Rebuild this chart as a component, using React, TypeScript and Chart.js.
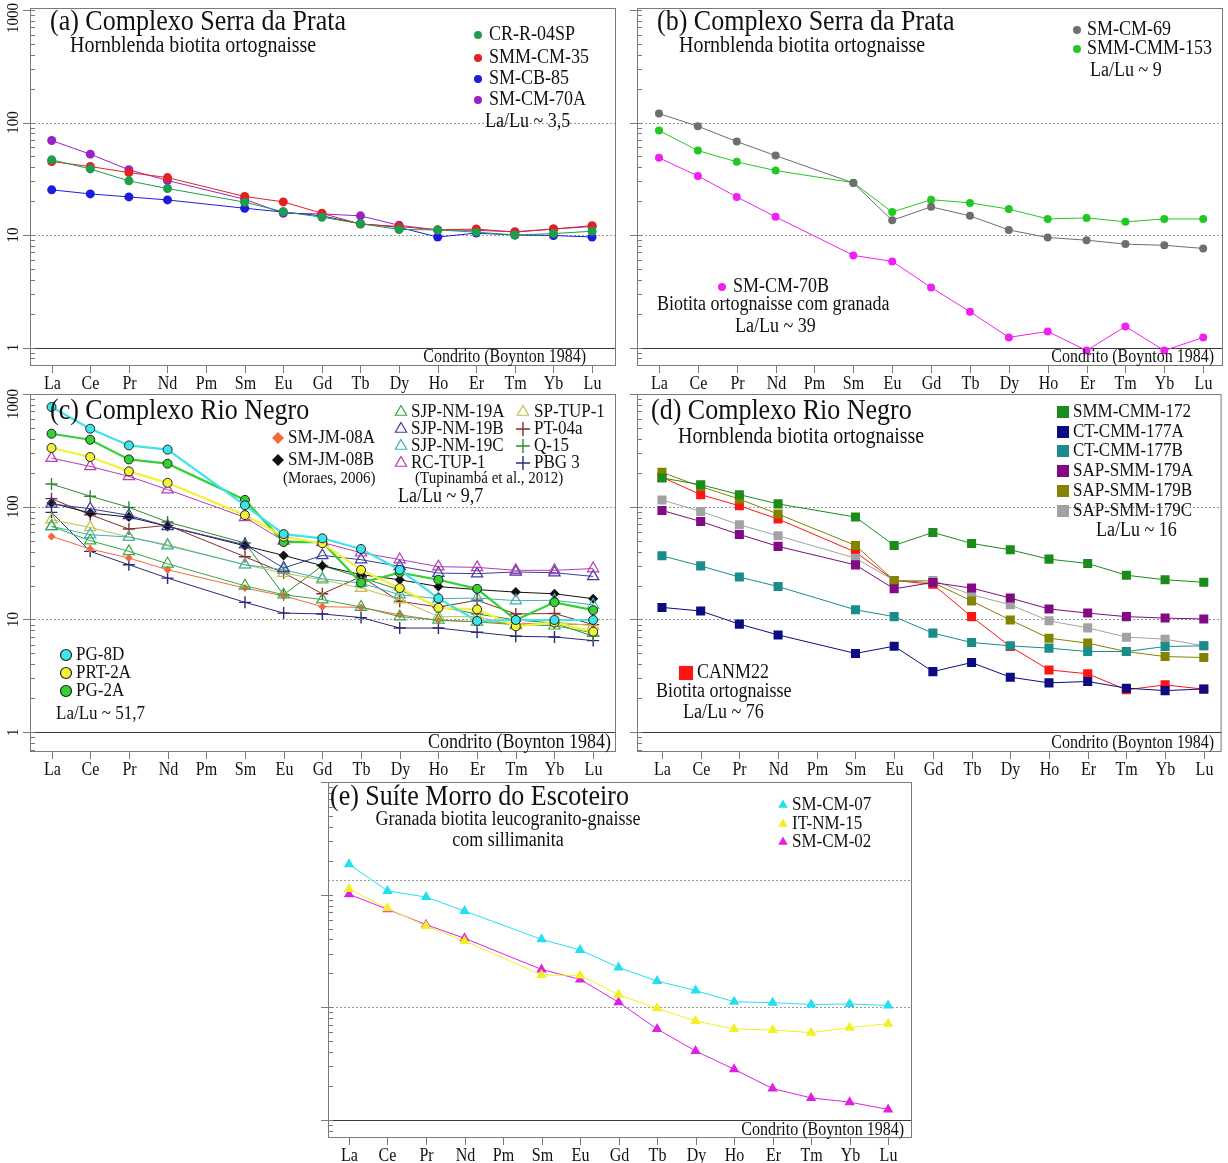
import React, { useEffect, useRef } from 'react';
import { Chart, registerables } from 'chart.js';

Chart.register(...registerables);

const W = 1228;
const H = 1163;
const SERIF = '"Liberation Serif", "Times New Roman", "DejaVu Serif", serif';
const CONDENSE = 0.9;

// ---- categories ----
const ELEMENTS = ['La', 'Ce', 'Pr', 'Nd', 'Pm', 'Sm', 'Eu', 'Gd', 'Tb', 'Dy', 'Ho', 'Er', 'Tm', 'Yb', 'Lu'];
const Y_TICK_LABELS = ['1', '10', '100', '1000'];
const CONDRITO = 'Condrito (Boynton 1984)';

// ---- panel (a) ----
const A_CR_R_04SP = [46.6, 38.7, 30.3, 25.9, null, 19.6, 16.1, 14.4, 12.6, 11.2, 11.1, 10.6, 10.0, 10.3, 10.8];
const A_SMM_CM_35 = [45.0, 40.6, 35.9, 32.4, null, 22.0, 19.7, 15.6, 12.5, 11.9, 11.1, 11.3, 10.6, 11.3, 12.1];
const A_SM_CB_85 = [25.2, 23.2, 21.8, 20.5, null, 17.3, 16.0, 14.8, 12.6, 11.7, 9.6, 10.4, 10.0, 9.9, 9.6];
const A_SM_CM_70A = [69.2, 52.3, 38.0, 30.5, null, 20.8, 15.6, 15.4, 14.8, 12.2, 11.1, 11.0, 10.7, 11.3, 11.9];

// ---- panel (b) ----
const B_SM_CM_69 = [120, 92.7, 67.7, 50.8, null, 29.0, 13.5, 17.8, 14.8, 11.1, 9.5, 9.0, 8.3, 8.1, 7.6];
const B_SMM_CMM_153 = [84.9, 56.3, 44.7, 37.4, null, 29.2, 16.0, 20.6, 19.3, 17.0, 13.9, 14.2, 13.1, 13.9, 13.9];
const B_SM_CM_70B = [48.5, 33.5, 21.8, 14.5, null, 6.59, 5.83, 3.42, 2.08, 1.23, 1.39, 0.94, 1.54, 0.94, 1.23];

// ---- panel (c) ----
const C_PG_8D = [767, 492, 350, 321, null, 103, 57.2, 52.5, 42.2, 27.6, 15.4, 9.7, 9.9, 9.9, 9.9];
const C_PRT_2A = [332, 276, 206, 163, null, 84.3, 54.2, 47.5, 27.5, 19.0, 12.7, 12.3, 8.7, 9.4, 7.8];
const C_PG_2A = [444, 393, 263, 241, null, 115, 48.6, 48.5, 21.2, 26.0, 22.5, 18.7, 9.9, 14.2, 12.1];
const C_RC_TUP_1 = [270, 228, 186, 142, null, 80.4, 49.9, 48.2, 39.1, 34.0, 29.4, 29.0, 27.3, 27.3, 28.3];
const C_SJP_NM_19A = [67, 50, 40.2, 31.2, null, 19.9, 16.6, 15.0, 12.9, 10.6, 9.9, 9.5, 9.0, 8.8, 7.6];
const C_SJP_NM_19B = [106, 96, 84, 67, null, 46, 28.6, 37.0, 33.9, 29.6, 25.8, 25.5, 26.4, 26.0, 24.1];
const C_SJP_NM_19C = [67, 56.5, 53.9, 45.2, null, 30.6, 27.6, 23.0, 21.0, 16.6, 15.3, 15.5, 14.7, 14.8, 13.5];
const C_SP_TUP_1 = [76.8, 65.6, 53.9, 46.0, null, 30.6, 25.8, 22.5, 19.0, 15.0, 10.6, 10.6, 8.8, 9.5, 8.8];
const C_SM_JM_08A = [54.6, 42.2, 35.1, 27.6, null, 19.0, 16.2, 13.0, 12.8, 11.0, 9.8, 9.6, 9.3, 9.1, 9.0];
const C_SM_JM_08B = [108, 88, 81, 67, null, 45, 37, 30, 25, 22.5, 19.6, 18.4, 17.5, 16.9, 15.3];
const C_PT_04A = [118, 85, 63.5, 68.4, null, 36, 26, 16.9, 24, 14.5, 12.9, 14.8, 11.2, 11.3, 9.0];
const C_Q_15 = [159, 124, 98.8, 73.3, null, 47.7, 16.6, 30, 23.6, 18.3, 13.0, 11.2, 9.9, 9.3, 7.1];
const C_PBG_3 = [89.2, 40.2, 30.6, 23.3, null, 14.2, 11.4, 11.2, 10.4, 8.4, 8.4, 7.7, 7.1, 7.0, 6.5];

// ---- panel (d) ----
const D_SMM_CMM_172 = [180, 157, 128, 106, null, 81, 45.4, 59.2, 47.3, 41.5, 34.3, 31.4, 24.7, 22.5, 21.4];
const D_CT_CMM_177A = [12.8, 11.9, 9.1, 7.3, null, 5.0, 5.8, 3.45, 4.15, 3.08, 2.74, 2.82, 2.46, 2.34, 2.42];
const D_CT_CMM_177B = [36.7, 29.9, 23.8, 19.6, null, 12.2, 10.6, 7.57, 6.25, 5.84, 5.57, 5.2, 5.2, 5.76, 5.84];
const D_SAP_SMM_179A = [92.8, 74.1, 56.8, 44.5, null, 30.5, 18.7, 21.3, 19.0, 15.5, 12.4, 11.4, 10.6, 10.3, 10.1];
const D_SAP_SMM_179B = [202, 151, 117, 86.1, null, 45.4, 22.2, 21.3, 14.6, 9.9, 6.83, 6.17, 5.2, 4.69, 4.6];
const D_SAP_SMM_179C = [115, 90.9, 69.2, 55.3, null, 35, 22.2, 22.2, 16.6, 13.5, 9.73, 8.43, 6.97, 6.69, 5.84];
const D_CANM22 = [183, 128, 102, 77.8, null, 39.6, 22.2, 20.5, 10.6, 5.76, 3.57, 3.3, 2.38, 2.63, 2.41];

// ---- panel (e) ----
const E_SM_CM_07 = [186, 108, 95.3, 71.6, null, 40.1, 32.3, 22.6, 17.1, 14.1, 11.2, 11.0, 10.6, 10.7, 10.4];
const E_IT_NM_15 = [112, 75.6, 52.7, 38.8, null, 19.4, 19.2, 12.9, 9.8, 7.57, 6.42, 6.29, 5.96, 6.6, 7.16];
const E_SM_CM_02 = [101, 74.1, 54.2, 41, null, 21.7, 17.7, 11.1, 6.42, 4.1, 2.82, 1.9, 1.57, 1.44, 1.24];

type Mk = 'circle' | 'rect' | 'triangle' | 'cross' | 'rectRot';
interface SeriesDef {
  label: string; values: (number | null)[]; color: string; marker: Mk; radius: number;
  filled: boolean; edge?: string; lineWidth: number; lineColor?: string;
}
interface Txt { t: string; x: number; y: number; size: number; align?: CanvasTextAlign; }
interface Leg { s: number; x: number; y: number; tx: number; size: number; r: number; }
interface PanelDef {
  frame: [number, number, number, number];
  xMin: number; xMax: number; yMin: number; yMax: number;
  yLabels: boolean; dotted: number[];
  series: SeriesDef[]; texts: Txt[]; legend: Leg[];
  condrito: { x: number; size: number };
}

const dot = (label: string, values: (number | null)[], color: string, radius = 4.5): SeriesDef =>
  ({ label, values, color, marker: 'circle', radius, filled: true, lineWidth: 1 });

const PANELS: PanelDef[] = [
  {
    frame: [30, 8, 616, 366], xMin: -0.562, xMax: 14.62, yMin: 0.685, yMax: 1042,
    yLabels: true, dotted: [10, 100],
    series: [
      dot('CR-R-04SP', A_CR_R_04SP, '#1e9e4a'),
      dot('SMM-CM-35', A_SMM_CM_35, '#e42020'),
      dot('SM-CB-85', A_SM_CB_85, '#1c1cdc'),
      dot('SM-CM-70A', A_SM_CM_70A, '#9a22c4'),
    ],
    texts: [
      { t: '(a) Complexo Serra da Prata', x: 50, y: 22, size: 26 },
      { t: 'Hornblenda biotita ortognaisse', x: 70, y: 46, size: 20 },
      { t: 'La/Lu ~ 3,5', x: 485, y: 122, size: 18 },
    ],
    legend: [
      { s: 0, x: 478, y: 35, tx: 489, size: 18, r: 4 },
      { s: 1, x: 478, y: 58, tx: 489, size: 18, r: 4 },
      { s: 2, x: 478, y: 79, tx: 489, size: 18, r: 4 },
      { s: 3, x: 478, y: 100, tx: 489, size: 18, r: 4 },
    ],
    condrito: { x: 586, size: 16 },
  },
  {
    frame: [637, 8, 1223, 366], xMin: -0.566, xMax: 14.51, yMin: 0.685, yMax: 1042,
    yLabels: false, dotted: [10, 100],
    series: [
      dot('SM-CM-69', B_SM_CM_69, '#6e6e6e', 4),
      dot('SMM-CMM-153', B_SMM_CMM_153, '#22c822', 4),
      dot('SM-CM-70B', B_SM_CM_70B, '#f020f0', 4),
    ],
    texts: [
      { t: '(b) Complexo Serra da Prata', x: 657, y: 22, size: 26 },
      { t: 'Hornblenda biotita ortognaisse', x: 679, y: 46, size: 20 },
      { t: 'La/Lu ~ 9', x: 1090, y: 71, size: 18 },
      { t: 'Biotita ortognaisse com granada', x: 657, y: 305, size: 18 },
      { t: 'La/Lu ~ 39', x: 735, y: 327, size: 18 },
    ],
    legend: [
      { s: 0, x: 1077, y: 30, tx: 1087, size: 18, r: 4 },
      { s: 1, x: 1077, y: 49, tx: 1087, size: 18, r: 4 },
      { s: 2, x: 722, y: 287, tx: 733, size: 18, r: 4 },
    ],
    condrito: { x: 1214, size: 16 },
  },
  {
    frame: [30, 394, 616, 752], xMin: -0.556, xMax: 14.59, yMin: 0.668, yMax: 1000,
    yLabels: true, dotted: [10, 100],
    series: [
      { label: 'PG-8D', values: C_PG_8D, color: '#3fe3ea', marker: 'circle', radius: 4.5, filled: true, edge: '#222', lineWidth: 2.2 },
      { label: 'PRT-2A', values: C_PRT_2A, color: '#f2f23a', marker: 'circle', radius: 4.5, filled: true, edge: '#222', lineWidth: 2.2 },
      { label: 'PG-2A', values: C_PG_2A, color: '#35d035', marker: 'circle', radius: 4.5, filled: true, edge: '#222', lineWidth: 2.2 },
      { label: 'RC-TUP-1', values: C_RC_TUP_1, color: '#b43cb4', marker: 'triangle', radius: 6.5, filled: false, lineWidth: 1 },
      { label: 'SJP-NM-19A', values: C_SJP_NM_19A, color: '#3aa84a', marker: 'triangle', radius: 6.5, filled: false, lineWidth: 1 },
      { label: 'SJP-NM-19B', values: C_SJP_NM_19B, color: '#3c3ca0', marker: 'triangle', radius: 6.5, filled: false, lineWidth: 1 },
      { label: 'SJP-NM-19C', values: C_SJP_NM_19C, color: '#40b0b0', marker: 'triangle', radius: 6.5, filled: false, lineWidth: 1 },
      { label: 'SP-TUP-1', values: C_SP_TUP_1, color: '#c0c048', marker: 'triangle', radius: 6.5, filled: false, lineWidth: 1 },
      { label: 'SM-JM-08A', values: C_SM_JM_08A, color: '#f26a3c', marker: 'rectRot', radius: 4, filled: true, lineWidth: 1 },
      { label: 'SM-JM-08B', values: C_SM_JM_08B, color: '#111111', marker: 'rectRot', radius: 5, filled: true, lineWidth: 1 },
      { label: 'PT-04a', values: C_PT_04A, color: '#8c2a2a', marker: 'cross', radius: 6, filled: false, lineWidth: 1 },
      { label: 'Q-15', values: C_Q_15, color: '#2f8a2f', marker: 'cross', radius: 6, filled: false, lineWidth: 1 },
      { label: 'PBG 3', values: C_PBG_3, color: '#2a2a78', marker: 'cross', radius: 6, filled: false, lineWidth: 1 },
    ],
    texts: [
      { t: '(c) Complexo Rio Negro', x: 50, y: 411, size: 26 },
      { t: '(Moraes, 2006)', x: 283, y: 479, size: 15 },
      { t: '(Tupinambá et al., 2012)', x: 415, y: 479, size: 15 },
      { t: 'La/Lu ~ 9,7', x: 398, y: 497, size: 18 },
      { t: 'La/Lu ~ 51,7', x: 56, y: 714, size: 17 },
    ],
    legend: [
      { s: 8, x: 278, y: 438, tx: 288, size: 17, r: 6 },
      { s: 9, x: 278, y: 460, tx: 288, size: 17, r: 6 },
      { s: 4, x: 401, y: 412, tx: 411, size: 17, r: 6.5 },
      { s: 5, x: 401, y: 429, tx: 411, size: 17, r: 6.5 },
      { s: 6, x: 401, y: 446, tx: 411, size: 17, r: 6.5 },
      { s: 3, x: 401, y: 463, tx: 411, size: 17, r: 6.5 },
      { s: 7, x: 523, y: 412, tx: 534, size: 17, r: 6.5 },
      { s: 10, x: 523, y: 429, tx: 534, size: 17, r: 7 },
      { s: 11, x: 523, y: 446, tx: 534, size: 17, r: 7 },
      { s: 12, x: 523, y: 463, tx: 534, size: 17, r: 7 },
      { s: 0, x: 66, y: 655, tx: 76, size: 17, r: 5.5 },
      { s: 1, x: 66, y: 673, tx: 76, size: 17, r: 5.5 },
      { s: 2, x: 66, y: 691, tx: 76, size: 17, r: 5.5 },
    ],
    condrito: { x: 611, size: 18 },
  },
  {
    frame: [637, 394, 1223, 752], xMin: -0.645, xMax: 14.46, yMin: 0.668, yMax: 1000,
    yLabels: false, dotted: [10, 100],
    series: [
      { label: 'SMM-CMM-172', values: D_SMM_CMM_172, color: '#1a8c1a', marker: 'rect', radius: 6.4, filled: true, lineWidth: 1 },
      { label: 'CT-CMM-177A', values: D_CT_CMM_177A, color: '#0c0c82', marker: 'rect', radius: 6.4, filled: true, lineWidth: 1 },
      { label: 'CT-CMM-177B', values: D_CT_CMM_177B, color: '#1a8c8c', marker: 'rect', radius: 6.4, filled: true, lineWidth: 1 },
      { label: 'SAP-SMM-179A', values: D_SAP_SMM_179A, color: '#820a82', marker: 'rect', radius: 6.4, filled: true, lineWidth: 1 },
      { label: 'SAP-SMM-179B', values: D_SAP_SMM_179B, color: '#838300', marker: 'rect', radius: 6.4, filled: true, lineWidth: 1 },
      { label: 'SAP-SMM-179C', values: D_SAP_SMM_179C, color: '#a2a2a2', marker: 'rect', radius: 6.4, filled: true, lineWidth: 1 },
      { label: 'CANM22', values: D_CANM22, color: '#ff1414', marker: 'rect', radius: 6.4, filled: true, lineWidth: 1 },
    ],
    texts: [
      { t: '(d) Complexo Rio Negro', x: 651, y: 411, size: 26 },
      { t: 'Hornblenda biotita ortognaisse', x: 678, y: 437, size: 20 },
      { t: 'La/Lu ~ 16', x: 1096, y: 531, size: 18 },
      { t: 'Biotita ortognaisse', x: 656, y: 692, size: 18 },
      { t: 'La/Lu ~ 76', x: 683, y: 713, size: 18 },
    ],
    legend: [
      { s: 0, x: 1063, y: 412, tx: 1073, size: 17, r: 8.5 },
      { s: 1, x: 1063, y: 432, tx: 1073, size: 17, r: 8.5 },
      { s: 2, x: 1063, y: 451, tx: 1073, size: 17, r: 8.5 },
      { s: 3, x: 1063, y: 471, tx: 1073, size: 17, r: 8.5 },
      { s: 4, x: 1063, y: 491, tx: 1073, size: 17, r: 8.5 },
      { s: 5, x: 1063, y: 511, tx: 1073, size: 17, r: 8.5 },
      { s: 6, x: 686, y: 673, tx: 697, size: 18, r: 10 },
    ],
    condrito: { x: 1214, size: 16 },
  },
  {
    frame: [328, 782, 912, 1138], xMin: -0.545, xMax: 14.62, yMin: 0.692, yMax: 1000,
    yLabels: false, dotted: [10, 134],
    series: [
      { label: 'SM-CM-07', values: E_SM_CM_07, color: '#22e0ee', marker: 'triangle', radius: 6, filled: true, lineWidth: 1 },
      { label: 'IT-NM-15', values: E_IT_NM_15, color: '#f2f022', marker: 'triangle', radius: 6, filled: true, lineWidth: 1 },
      { label: 'SM-CM-02', values: E_SM_CM_02, color: '#e020e0', marker: 'triangle', radius: 6, filled: true, lineWidth: 1 },
    ],
    texts: [
      { t: '(e) Suíte Morro do Escoteiro', x: 330, y: 797, size: 26 },
      { t: 'Granada biotita leucogranito-gnaisse', x: 508, y: 820, size: 18, align: 'center' },
      { t: 'com sillimanita', x: 508, y: 841, size: 18, align: 'center' },
    ],
    legend: [
      { s: 0, x: 783, y: 805, tx: 792, size: 17, r: 5.5 },
      { s: 1, x: 783, y: 824, tx: 792, size: 17, r: 5.5 },
      { s: 2, x: 783, y: 842, tx: 792, size: 17, r: 5.5 },
    ],
    condrito: { x: 904, size: 16 },
  },
];

function drawMarker(ctx: CanvasRenderingContext2D, m: Mk, x: number, y: number, r: number,
  fill: string | null, stroke: string | null, lw: number) {
  ctx.beginPath();
  if (m === 'circle') ctx.arc(x, y, r, 0, Math.PI * 2);
  else if (m === 'rect') { const s = r * Math.SQRT1_2; ctx.rect(x - s, y - s, 2 * s, 2 * s); }
  else if (m === 'rectRot') { ctx.moveTo(x, y - r); ctx.lineTo(x + r, y); ctx.lineTo(x, y + r); ctx.lineTo(x - r, y); ctx.closePath(); }
  else if (m === 'triangle') {
    for (let k = 0; k < 3; k++) {
      const a = k * 2 * Math.PI / 3;
      const px = x + Math.sin(a) * r, py = y - Math.cos(a) * r;
      if (k === 0) ctx.moveTo(px, py); else ctx.lineTo(px, py);
    }
    ctx.closePath();
  } else { ctx.moveTo(x - r, y); ctx.lineTo(x + r, y); ctx.moveTo(x, y - r); ctx.lineTo(x, y + r); }
  if (fill && m !== 'cross') { ctx.fillStyle = fill; ctx.fill(); }
  if (stroke && lw > 0) { ctx.lineWidth = lw; ctx.strokeStyle = stroke; ctx.stroke(); }
}

// Narrow serif text (the source figure uses a tall, condensed Times face)
function condText(ctx: CanvasRenderingContext2D, t: string, x: number, y: number, size: number, align: CanvasTextAlign) {
  ctx.save();
  ctx.font = `${(size / CONDENSE).toFixed(1)}px ${SERIF}`;
  ctx.textAlign = align;
  ctx.textBaseline = 'middle';
  ctx.translate(x, y);
  ctx.scale(CONDENSE, 1);
  ctx.fillText(t, 0, 0);
  ctx.restore();
}

function makeDecor(p: PanelDef) {
  return {
    id: 'decor',
    beforeDatasetsDraw(chart: any) {
      const ctx: CanvasRenderingContext2D = chart.ctx;
      const { left, right } = chart.chartArea;
      const ys = chart.scales.y;
      ctx.save();
      ctx.strokeStyle = '#9a9a9a';
      ctx.lineWidth = 1;
      ctx.setLineDash([2, 2]);
      for (const g of p.dotted) {
        const y = Math.round(ys.getPixelForValue(g)) + 0.5;
        ctx.beginPath(); ctx.moveTo(left, y); ctx.lineTo(right, y); ctx.stroke();
      }
      ctx.setLineDash([]);
      const y1 = Math.round(ys.getPixelForValue(1)) + 0.5;
      ctx.strokeStyle = '#3a3a3a';
      ctx.lineWidth = 1.2;
      ctx.beginPath(); ctx.moveTo(left - 7, y1); ctx.lineTo(right, y1); ctx.stroke();
      ctx.restore();
    },
    afterDatasetsDraw(chart: any) {
      const ctx: CanvasRenderingContext2D = chart.ctx;
      const { left, right, top, bottom } = chart.chartArea;
      const ys = chart.scales.y;
      const xs = chart.scales.x;
      ctx.save();
      // frame
      ctx.strokeStyle = '#7a7a7a';
      ctx.lineWidth = 1;
      ctx.strokeRect(left + 0.5, top + 0.5, right - left - 1, bottom - top - 1);
      // y ticks
      for (let e = -1; e <= 3; e++) {
        for (let m = 1; m <= 9; m++) {
          const v = m * Math.pow(10, e);
          if (v < p.yMin || v > p.yMax) continue;
          const py = Math.round(ys.getPixelForValue(v)) + 0.5;
          ctx.beginPath();
          if (m === 1) { ctx.moveTo(left - 7, py); ctx.lineTo(left + 5, py); }
          else { ctx.moveTo(left, py); ctx.lineTo(left + 5, py); }
          ctx.stroke();
        }
      }
      ctx.fillStyle = '#111';
      if (p.yLabels) {
        Y_TICK_LABELS.forEach((lab) => {
          const v = Number(lab);
          const py = Math.max(ys.getPixelForValue(v), top + 10);
          ctx.save();
          ctx.translate(left - 16, py);
          ctx.rotate(-Math.PI / 2);
          condText(ctx, lab, 0, 0, 15, 'center');
          ctx.restore();
        });
      }
      // x ticks and labels
      ELEMENTS.forEach((el, i) => {
        const px = Math.round(xs.getPixelForValue(i)) + 0.5;
        ctx.beginPath(); ctx.moveTo(px, bottom); ctx.lineTo(px, bottom + 7); ctx.stroke();
        condText(ctx, el, px, bottom + 18, 16, 'center');
      });
      // condrito label
      const y1 = ys.getPixelForValue(1);
      condText(ctx, CONDRITO, p.condrito.x, (y1 + bottom) / 2 + 1, p.condrito.size, 'right');
      // texts
      for (const t of p.texts) {
        condText(ctx, t.t, t.x, t.y, t.size, t.align ?? 'left');
      }
      // legend
      for (const l of p.legend) {
        const s = p.series[l.s];
        const fill = s.filled ? s.color : null;
        const stroke = s.edge ? s.edge : (s.filled ? null : s.color);
        drawMarker(ctx, s.marker, l.x, l.y, l.r, fill, stroke, s.marker === 'cross' ? 1.4 : 1.2);
        ctx.fillStyle = '#111';
        condText(ctx, s.label, l.tx, l.y, l.size, 'left');
      }
      ctx.restore();
    },
  };
}

function PanelChart({ def }: { def: PanelDef }) {
  const ref = useRef<HTMLCanvasElement>(null);
  useEffect(() => {
    const canvas = ref.current;
    if (!canvas) return;
    const [fl, ft, fr, fb] = def.frame;
    const chart = new Chart(canvas, {
      type: 'line',
      data: {
        datasets: def.series.map((s) => ({
          label: s.label,
          data: s.values
            .map((v, i) => (v == null ? null : { x: i, y: v }))
            .filter((d) => d !== null) as any,
          borderColor: s.lineColor ?? s.color,
          borderWidth: s.lineWidth,
          pointStyle: s.marker,
          pointRadius: s.radius,
          pointHoverRadius: s.radius,
          pointBackgroundColor: s.filled ? s.color : 'rgba(0,0,0,0)',
          pointBorderColor: s.edge ?? s.color,
          pointBorderWidth: s.edge ? 1 : (s.filled ? 0 : (s.marker === 'cross' ? 1.4 : 1.2)),
          fill: false,
          tension: 0,
        })),
      },
      options: {
        animation: false,
        responsive: false,
        devicePixelRatio: 1,
        events: [],
        layout: { padding: { left: fl, top: ft, right: W - fr, bottom: H - fb } },
        scales: {
          x: { type: 'linear', min: def.xMin, max: def.xMax, display: false },
          y: { type: 'logarithmic', min: def.yMin, max: def.yMax, display: false },
        },
        plugins: { legend: { display: false }, tooltip: { enabled: false }, title: { display: false } },
      },
      plugins: [makeDecor(def)],
    });
    return () => chart.destroy();
  }, [def]);
  return (
    <canvas
      ref={ref}
      width={W}
      height={H}
      style={{ position: 'absolute', left: 0, top: 0, width: W, height: H }}
    />
  );
}

export default function App() {
  return (
    <div style={{ position: 'absolute', left: 0, top: 0, width: W, height: H, background: '#ffffff', overflow: 'hidden' }}>
      {PANELS.map((p, i) => (
        <PanelChart key={i} def={p} />
      ))}
    </div>
  );
}
